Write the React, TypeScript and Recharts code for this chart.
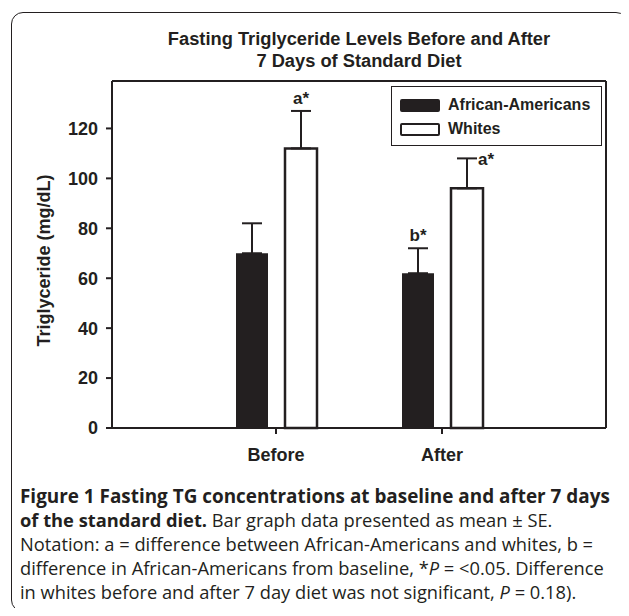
import {
  Bar,
  BarChart,
  CartesianGrid,
  ErrorBar,
  LabelList,
  Legend,
  XAxis,
  YAxis,
  Label,
} from "recharts";

const CATEGORIES = ["Before", "After"];
const AA_MEAN = [70, 62];
const AA_SE = [12, 10];
const WHITE_MEAN = [112, 96];
const WHITE_SE = [15, 12];
const AA_MARKS = ["", "b*"];
const WHITE_MARKS = ["a*", "a*"];
const WHITE_MARK_SIDE = ["top", "right"];
const Y_TICKS = [0, 20, 40, 60, 80, 100, 120];
const Y_MAX = 139;

const INK = "#231f20";
const FONT = "'Liberation Sans', Arial, sans-serif";

const SERIES = [
  { name: "African-Americans", fill: INK },
  { name: "Whites", fill: "#ffffff" },
];

const data = CATEGORIES.map((name, i) => ({
  name,
  aa: AA_MEAN[i],
  aaErr: [0, AA_SE[i]],
  wh: WHITE_MEAN[i],
  whErr: [0, WHITE_SE[i]],
}));

function makeMark(marks: string[], se: number[], sides: string[]) {
  return (props: any) => {
    const { x, y, width, height, value, index } = props;
    const text = marks[index];
    if (!text) return null;
    const px = height / value;
    const errTop = y - se[index] * px;
    const cx = x + width / 2;
    if (sides[index] === "right") {
      return (
        <text x={cx + 11} y={errTop + 7} fontFamily={FONT} fontWeight="bold" fontSize={17} fill={INK}>
          {text}
        </text>
      );
    }
    return (
      <text x={cx} y={errTop - 7} textAnchor="middle" fontFamily={FONT} fontWeight="bold" fontSize={17} fill={INK}>
        {text}
      </text>
    );
  };
}

function LegendBox() {
  return (
    <div
      style={{
        width: 209,
        height: 58,
        border: `1px solid ${INK}`,
        background: "#fff",
        fontFamily: FONT,
        fontWeight: "bold",
        fontSize: 16,
        color: INK,
      }}
    >
      {SERIES.map((s, i) => (
        <div key={s.name} style={{ display: "flex", alignItems: "center", height: 24, marginTop: i === 0 ? 6 : 0, paddingLeft: 8 }}>
          <div
            style={{
              width: 40,
              height: 13,
              boxSizing: "border-box",
              background: s.fill,
              border: `2.5px solid ${INK}`,
              borderRadius: 2,
              marginRight: 8,
            }}
          />
          <span>{s.name}</span>
        </div>
      ))}
    </div>
  );
}

const tickStyle = { fill: INK, fontSize: 18, fontWeight: "bold", fontFamily: FONT };
const frameLine = { stroke: INK, strokeWidth: 2 };

export default function App() {
  return (
    <div style={{ position: "relative", width: 629, height: 616, margin: -8, background: "#fff", overflow: "hidden" }}>
      <div
        style={{
          position: "absolute",
          left: 11,
          top: 12,
          width: 617,
          height: 600,
          boxSizing: "border-box",
          border: `1.5px solid ${INK}`,
          borderRadius: 12,
        }}
      />
      <div
        style={{
          position: "absolute",
          left: 112,
          width: 494,
          top: 28,
          textAlign: "center",
          fontFamily: FONT,
          fontWeight: "bold",
          fontSize: 18.3,
          lineHeight: "22px",
          color: INK,
        }}
      >
        Fasting Triglyceride Levels Before and After
        <br />7 Days of Standard Diet
      </div>
      <div style={{ position: "absolute", left: 0, top: 0 }}>
        <BarChart
          width={629}
          height={616}
          data={data}
          margin={{ top: 81, right: 23, left: 52, bottom: 158 }}
          barSize={32}
          barGap={17}
        >
          {/* plot frame: top and right edges */}
          <CartesianGrid
            stroke={INK}
            strokeWidth={2}
            horizontalCoordinatesGenerator={({ offset }: any) => [offset.top]}
            verticalCoordinatesGenerator={({ offset }: any) => [offset.left + offset.width]}
          />
          <XAxis
            dataKey="name"
            height={30}
            padding={{ left: 81, right: 81 }}
            axisLine={frameLine}
            tickLine={frameLine}
            tickSize={6}
            tickMargin={14}
            tick={tickStyle}
            interval={0}
          />
          <YAxis
            width={60}
            domain={[0, Y_MAX]}
            ticks={Y_TICKS}
            interval={0}
            axisLine={frameLine}
            tickLine={frameLine}
            tickSize={6}
            tickMargin={8}
            tick={tickStyle}
          >
            <Label
              content={(p: any) => {
                const vb = p.viewBox || {};
                const cx = vb.x - 8;
                const cy = vb.y + vb.height / 2 + 6;
                return (
                  <text
                    x={cx}
                    y={cy}
                    transform={`rotate(-90, ${cx}, ${cy})`}
                    textAnchor="middle"
                    dominantBaseline="central"
                    fontFamily={FONT}
                    fontWeight="bold"
                    fontSize={18}
                    fill={INK}
                  >
                    Triglyceride (mg/dL)
                  </text>
                );
              }}
            />
          </YAxis>
          <Legend
            layout="horizontal"
            verticalAlign="middle"
            align="center"
            content={() => <LegendBox />}
            wrapperStyle={{ position: "absolute", left: 391, top: 86, width: 211, height: 60 }}
          />
          <Bar dataKey="aa" name={SERIES[0].name} fill={INK} isAnimationActive={false}>
            <ErrorBar dataKey="aaErr" direction="y" width={10} stroke={INK} strokeWidth={2} />
            <LabelList dataKey="aa" content={makeMark(AA_MARKS, AA_SE, ["top", "top"])} />
          </Bar>
          <Bar dataKey="wh" name={SERIES[1].name} fill="#ffffff" stroke={INK} strokeWidth={2.5} isAnimationActive={false}>
            <ErrorBar dataKey="whErr" direction="y" width={10} stroke={INK} strokeWidth={2} />
            <LabelList dataKey="wh" content={makeMark(WHITE_MARKS, WHITE_SE, WHITE_MARK_SIDE)} />
          </Bar>
        </BarChart>
      </div>
      <div
        style={{
          position: "absolute",
          left: 20,
          top: 484,
          fontFamily: "'Open Sans', sans-serif",
          fontSize: 18.3,
          lineHeight: "24px",
          color: "#231f20",
          whiteSpace: "nowrap",
        }}
      >
        <div style={{ fontWeight: 700, fontSize: 18.9 }}>Figure 1 Fasting TG concentrations at baseline and after 7 days</div>
        <div>
          <b>of the standard diet.</b> Bar graph data presented as mean ± SE.
        </div>
        <div>Notation: a = difference between African-Americans and whites, b =</div>
        <div>
          difference in African-Americans from baseline, *<i>P</i> = &lt;0.05. Difference
        </div>
        <div>
          in whites before and after 7 day diet was not significant, <i>P</i> = 0.18).
        </div>
      </div>
    </div>
  );
}
